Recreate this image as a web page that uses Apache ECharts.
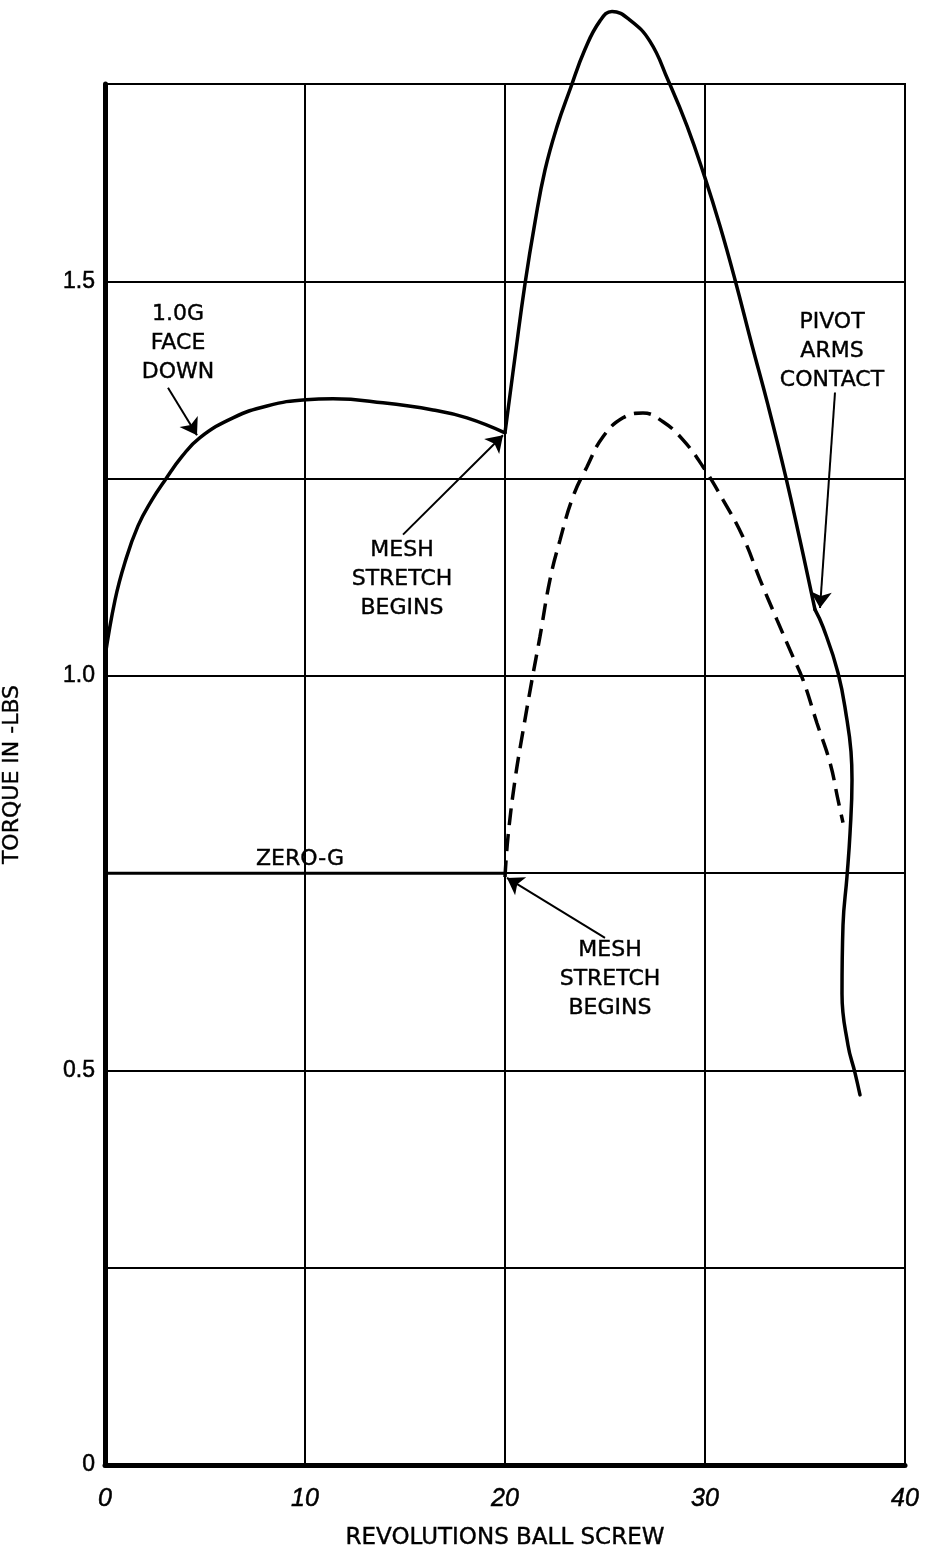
<!DOCTYPE html>
<html>
<head>
<meta charset="utf-8">
<script src="https://cdn.jsdelivr.net/npm/echarts@6/dist/echarts.min.js"></script>
<style>
html,body{margin:0;padding:0;background:#fff;}
#chart{width:934px;height:1552px;}
</style>
</head>
<body>
<div id="chart"></div>
<script>
// ---- data ----
const xTicks = [0, 10, 20, 30, 40];
const yTickLabels = ['0', '0.5', '1.0', '1.5'];

// 1.0G face down (solid): part up to mesh stretch
const faceDownX = [0, 0.5, 1.0, 1.65, 2.35, 3.0, 3.85, 4.75, 6.4, 8.1, 10.05, 11.4, 13.9, 16.4, 18.1, 20];
const faceDownY = [1.024, 1.096, 1.144, 1.190, 1.223, 1.248, 1.278, 1.302, 1.327, 1.342, 1.350, 1.351, 1.346, 1.337, 1.327, 1.308];
// 1.0G after mesh stretch begins, up to the pivot-arms kink
const stretchX = [20, 20.5, 21.0, 21.5, 22.0, 22.6, 23.25, 24.0, 24.75, 25.35, 26.25, 27.25, 28.15, 29.1, 30.0, 30.75, 31.5,
  32.35, 33.15, 34.05, 34.75, 35.5];
const stretchY = [1.308, 1.404, 1.497, 1.575, 1.641, 1.696, 1.743, 1.794, 1.830, 1.842, 1.831, 1.804, 1.755, 1.697, 1.631, 1.570, 1.502,
  1.419, 1.343, 1.251, 1.172, 1.084];
// 1.0G after pivot arms contact
const pivotX = [35.5, 35.9, 36.65, 37.1, 37.3, 37.35, 37.25, 37.1, 36.9, 36.85, 37.15, 37.5, 37.75];
const pivotY = [1.084, 1.062, 1.004, 0.944, 0.904, 0.868, 0.80, 0.746, 0.684, 0.597, 0.532, 0.497, 0.469];

// Zero-G: flat portion then mesh stretch (dashed)
const zeroGFlatX = [0, 20];
const zeroGFlatY = [0.75, 0.75];
const zeroGStretchX = [20, 20.15, 20.5, 20.9, 21.35, 21.75, 22.25, 22.75, 23.4, 24.1, 24.9, 25.9, 26.9, 27.9,
  28.9, 29.9, 30.9, 31.9, 32.75, 33.6, 34.4, 34.9, 35.6, 36.25, 36.65, 36.9];
const zeroGStretchY = [0.745, 0.796, 0.868, 0.93, 0.995, 1.05, 1.122, 1.172, 1.227, 1.265, 1.303, 1.327, 1.333, 1.322,
  1.299, 1.265, 1.223, 1.176, 1.122, 1.071, 1.024, 0.995, 0.94, 0.89, 0.843, 0.814];

// annotations: text anchor [x, y] and arrows [from, to]
const annTexts = ['1.0G\nFACE\nDOWN', 'MESH\nSTRETCH\nBEGINS', 'ZERO-G', 'MESH\nSTRETCH\nBEGINS', 'PIVOT\nARMS\nCONTACT'];
const annX = [3.65, 14.85, 9.75, 25.25, 36.35];
const annY = [1.422, 1.123, 0.767, 0.615, 1.411];
const arrowFrom = [[3.15, 1.365], [14.9, 1.179], [25.0, 0.668], [36.5, 1.359]];
const arrowTo = [[4.6, 1.305], [19.9, 1.305], [20.1, 0.744], [35.75, 1.086]];

const zip = (xs, ys) => xs.map((x, i) => [x, ys[i]]);

const chart = echarts.init(document.getElementById('chart'), null, {renderer: 'canvas'});
const textFont = "'DejaVu Sans', 'Noto Sans', sans-serif";
const numFont = "'Liberation Sans Narrow', 'Liberation Sans', sans-serif";
const solidStyle = {color: '#000', width: 3.5, cap: 'round', join: 'round'};
const solidLine = (name, data) => ({
  name, type: 'line', data, showSymbol: false, smooth: 0.45, clip: false, silent: true,
  lineStyle: solidStyle, itemStyle: {color: '#000'}
});

chart.setOption({
  animation: false,
  backgroundColor: '#fff',
  grid: {left: 105, right: 29, top: 84, bottom: 87, show: true, borderColor: '#000', borderWidth: 2,
    containLabel: false, outerBoundsMode: 'none'},
  xAxis: {
    type: 'value', min: 0, max: 40, interval: 10,
    name: 'REVOLUTIONS BALL SCREW', nameLocation: 'middle', nameGap: 62,
    nameTextStyle: {color: '#000', fontSize: 23, fontFamily: textFont, textBorderColor: '#000', textBorderWidth: 0.4},
    axisLine: {show: true, onZero: false, lineStyle: {color: '#000', width: 5}},
    axisTick: {show: false},
    splitLine: {show: true, lineStyle: {color: '#000', width: 2}},
    axisLabel: {color: '#000', fontSize: 25, margin: 22, fontStyle: 'italic', fontFamily: numFont,
      textBorderColor: '#000', textBorderWidth: 0.5,
      formatter: v => xTicks.includes(v) ? String(v) : ''}
  },
  yAxis: {
    type: 'value', min: 0, max: 1.75, interval: 0.25,
    name: 'TORQUE IN -LBS', nameLocation: 'middle', nameGap: 82,
    nameTextStyle: {color: '#000', fontSize: 22, fontFamily: textFont, textBorderColor: '#000', textBorderWidth: 0.4},
    axisLine: {show: true, onZero: false, lineStyle: {color: '#000', width: 5}},
    axisTick: {show: false},
    splitLine: {show: true, lineStyle: {color: '#000', width: 2}},
    axisLabel: {color: '#000', fontSize: 23, margin: 10, fontFamily: numFont,
      textBorderColor: '#000', textBorderWidth: 0.5,
      formatter: v => {
        const idx = Math.round(v / 0.5);
        return Math.abs(v - idx * 0.5) < 1e-9 ? (yTickLabels[idx] || '') : '';
      }}
  },
  series: [
    solidLine('1.0G FACE DOWN', zip(faceDownX, faceDownY)),
    solidLine('1.0G MESH STRETCH', zip(stretchX, stretchY)),
    solidLine('1.0G PIVOT ARMS CONTACT', zip(pivotX, pivotY)),
    {
      name: 'ZERO-G', type: 'line', data: zip(zeroGFlatX, zeroGFlatY),
      showSymbol: false, clip: false, silent: true,
      lineStyle: {color: '#000', width: 3}
    },
    {
      name: 'ZERO-G STRETCH', type: 'line', data: zip(zeroGStretchX, zeroGStretchY),
      showSymbol: false, smooth: 0.45, clip: false, silent: true,
      lineStyle: {color: '#000', width: 3.5, type: [17, 9]},
      markLine: {
        silent: true, animation: false,
        symbol: ['none', 'arrow'], symbolSize: 16,
        lineStyle: {color: '#000', width: 2, type: 'solid', opacity: 1},
        itemStyle: {color: '#000'},
        label: {show: false},
        emphasis: {disabled: true},
        data: arrowFrom.map((f, i) => [{coord: f}, {coord: arrowTo[i]}])
      }
    },
    {
      name: 'annotations', type: 'scatter', silent: true, symbolSize: 0,
      itemStyle: {opacity: 1, color: '#000'},
      data: annX.map((x, i) => ({value: [x, annY[i]], label: {formatter: annTexts[i]}})),
      label: {show: true, position: 'inside', color: '#000', opacity: 1, fontSize: 22, lineHeight: 29,
        align: 'center', verticalAlign: 'middle', fontFamily: textFont,
        textBorderColor: '#000', textBorderWidth: 0.4}
    }
  ]
});
</script>
</body>
</html>
